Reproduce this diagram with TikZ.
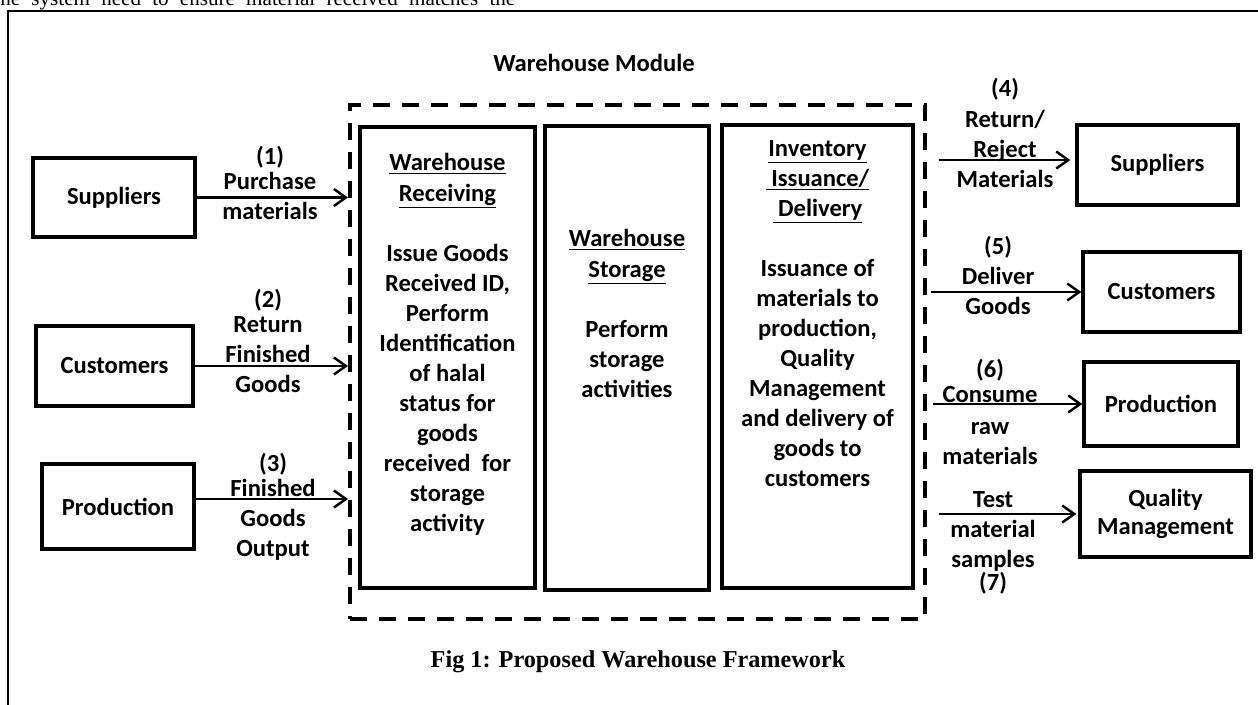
\documentclass[tikz,border=0pt]{standalone}
\usepackage{fontspec}
\setmainfont{Carlito}
\newfontfamily\serifcap{Liberation Serif}
\usepackage{tikz}
\usetikzlibrary{arrows.meta}
\usetikzlibrary{positioning}

\begin{document}
\begin{tikzpicture}[x=0.02cm, y=-0.02cm,
		party/.style={draw, line width=1.9pt, inner sep=1pt, align=center,
			font=\bfseries\fontsize{14}{16}\selectfont},
		stage/.style={draw, line width=1.9pt, inner sep=0pt},
		note/.style={align=center, inner sep=0pt,
			font=\bfseries\fontsize{14}{17.1}\selectfont},
		body/.style={align=center, inner sep=0pt,
			font=\bfseries\fontsize{14}{17.1}\selectfont},
		flow/.style={line width=1.4pt, -{Straight Barb[length=2.4mm,width=3.4mm]}}]
		\useasboundingbox (0,0) rectangle (1258,704);
		\clip (0,0) rectangle (1258,704);
		
		% page text and frame
		\node[anchor=base west, inner sep=0pt, font=\serifcap\fontsize{12}{14}\selectfont] (pagetext) at (0,5)
		{\makebox[10.3cm][s]{he system need to ensure material received matches the}};
		\draw[line width=0.8pt] (1300,11) -| (8,760);
		
		% module with its three stages
		\node[font=\bfseries\fontsize{14}{17}\selectfont, inner sep=0pt] (title) at (594,63) {Warehouse Module};
		\node[draw, line width=2.3pt, dash pattern=on 9.7pt off 6.8pt,
		minimum width=11.5cm, minimum height=10.28cm] (module) at (637.5,362) {};
		
		\node[stage, minimum width=3.5cm, minimum height=9.22cm] (recv) at (447.5,357.5) {};
		\node[stage, minimum width=3.28cm, minimum height=9.28cm] (store) at (627,358) {};
		\node[stage, minimum width=3.82cm, minimum height=9.26cm] (issue) at (817.5,356.5) {};
		
		\node[body, below=0.56cm of recv.north] (recvtext)
		{\underline{Warehouse}\\\underline{Receiving}\\\mbox{}\\Issue Goods\\Received ID,\\Perform\\Identification\\of halal\\status for\\goods\\received\ \ for\\storage\\activity};
		\node[body, below=2.1cm of store.north] (storetext)
		{\underline{Warehouse}\\\underline{Storage}\\\mbox{}\\Perform\\storage\\activities};
		\node[body, below=0.33cm of issue.north] (issuetext)
		{\underline{Inventory}\\\underline{\ Issuance/}\\\underline{\ Delivery}\\\mbox{}\\Issuance of\\materials to\\production,\\Quality\\Management\\and delivery of\\goods to\\customers};
		
		% parties sending goods in
		\node[party, minimum width=3.24cm, minimum height=1.58cm] (sup1) at (114,197.5) {Suppliers};
		\node[party, minimum width=3.14cm, minimum height=1.6cm] (cus1) at (114.5,366) {Customers};
		\node[party, minimum width=3.04cm, minimum height=1.7cm] (prd1) at (118,506.5) {Production};
		
		% parties receiving goods out
		\node[party, minimum width=3.22cm, minimum height=1.6cm] (sup2) at (1157.5,165) {Suppliers};
		\node[party, minimum width=3.14cm, minimum height=1.6cm] (cus2) at (1161.5,292) {Customers};
		\node[party, minimum width=3.08cm, minimum height=1.68cm] (prd2) at (1161,404) {Production};
		\node[party, minimum width=3.42cm, minimum height=1.72cm] (qm) at (1165.5,514) {Quality\\Management};
		
		% flows into the module
		\coordinate (in3) at ([yshift=0.15cm]prd1.east);
		\draw[flow] (sup1.east) -- (sup1.east -| module.west);
		\draw[flow] (cus1.east) -- (cus1.east -| module.west);
		\draw[flow] (in3) -- (in3 -| module.west);
		
		% flows out of the module
		\coordinate (out4) at ([yshift=0.1cm]sup2.west);
		\draw[flow] ([xshift=0.24cm]out4 -| module.east) -- ([xshift=-0.1cm]out4);
		\draw[flow] ([xshift=0.08cm]cus2.west -| module.east) -- (cus2.west);
		\draw[flow] ([xshift=0.12cm]prd2.west -| module.east) -- (prd2.west);
		\draw[flow] ([xshift=0.24cm]qm.west -| module.east) -- ([xshift=-0.04cm]qm.west);
		
		% flow labels
		\node[note] (lab1) at (270,183) {(1)\\[-3pt]Purchase\\materials};
		\node[note] (lab2) at (268,341) {(2)\\[-3pt]Return\\Finished\\Goods};
		\node[note] (lab3) at (273,507) {(3)\\[-3pt]Finished\\Goods\\Output};
		\node[note] (lab4) at (1005,133) {(4)\\Return/\\Reject\\Materials};
		\node[note] (lab5) at (998,275) {(5)\\Deliver\\Goods};
		\node[note] (lab6) at (990,412) {(6)\\[-3pt]Consume\\[1pt]raw\\materials};
		\node[note] (lab7) at (993,543) {Test\\material\\samples\\[-4pt](7)};
		
		\node[font=\serifcap\bfseries\fontsize{13.8}{17}\selectfont, inner sep=0pt] (caption) at (638,662)
		{Fig 1: Proposed Warehouse Framework};
		
	\end{tikzpicture}
\end{document}
